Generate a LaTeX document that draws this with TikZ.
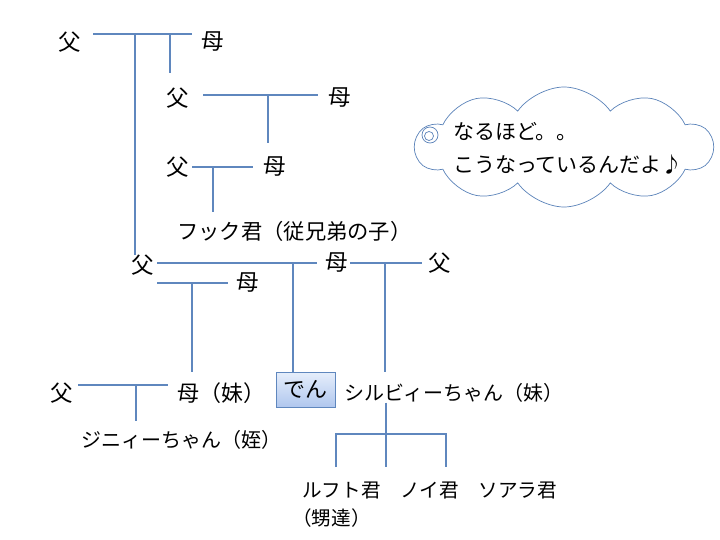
\documentclass[tikz,border=0pt]{standalone}
\usepackage{fontspec}
\setmainfont{Noto Sans CJK JP}
\usetikzlibrary{shapes.symbols,positioning}
\definecolor{linkblue}{RGB}{95,135,190}
\definecolor{cloudblue}{RGB}{90,130,185}
\definecolor{boxtop}{RGB}{230,238,251}
\definecolor{boxbottom}{RGB}{176,199,238}

\begin{document}
\begin{tikzpicture}[
    x=1pt, y=-1pt,
    every node/.style={font=\fontsize{20}{28}\selectfont, inner sep=0pt},
    person/.style={anchor=center, font=\fontsize{22.5}{28}\selectfont},
    label/.style={anchor=west},
    link/.style={draw=linkblue, line width=2pt},
    me/.style={draw=linkblue, line width=0.8pt, top color=boxtop, bottom color=boxbottom, minimum width=59pt, minimum height=35pt, font=\fontsize{22}{28}\selectfont},
    bubble/.style={cloud, cloud puffs=10, cloud puff arc=110, cloud ignores aspect, draw=cloudblue, line width=0.7pt, fill=white, minimum width=297pt, minimum height=120pt},
    tail/.style={circle, draw=cloudblue, line width=0.7pt}
]
\useasboundingbox (0,0) rectangle (720,540);

% people
\node[person] (ggfa) at (70,42) {父};
\node[person] (ggmo) at (213,42) {母};
\node[person] (gfa2) at (178,98) {父};
\node[person] (gmo2) at (340,98) {母};
\node[person] (gfa3) at (178,167) {父};
\node[person] (gmo3) at (275,167) {母};
\node[label, font=\fontsize{21.3}{28}\selectfont] (fuk) at (177,231) {フック君（従兄弟の子）};
\node[person] (fa) at (143,265) {父};
\node[person] (mo) at (337,263) {母};
\node[person] (sfa) at (440,263) {父};
\node[person] (mo2) at (248,283) {母};
\node[person] (ufa) at (62,393) {父};
\node[label, font=\fontsize{22}{28}\selectfont] (aunt) at (177,393) {母（妹）};
\node[me] (den) at (305.5,389.5) {でん};
\node[label] (syl) at (344,393) {シルビィーちゃん（妹）};
\node[label] (jin) at (81,440) {ジニィーちゃん（姪）};
\node[align=left, anchor=north west, font=\fontsize{19.6}{28}\selectfont] (kids) at (302,482) {ルフト君　ノイ君　ソアラ君\\\hspace*{-10pt}（甥達）};

% thought bubble
\node[bubble] (thought) at (564,147) {};
\node[align=left, font=\fontsize{21}{33}\selectfont] (thoughttext) at (568,148) {なるほど。。\\こうなっているんだよ♪};
\node[tail, minimum size=16pt] (tail1) at (430,135) {};
\node[tail, minimum size=9pt] (tail2) at (429,136) {};

% couple lines and drops
\coordinate (u1a) at (93,34);   \coordinate (u1b) at (192,34);
\coordinate (j1) at (135,34);   \coordinate (j2) at (170,34);   \coordinate (e2) at (170,73);
\draw[link] (u1a) -- (u1b);
\draw[link] (j1) -- (j1 |- fa.north);
\draw[link] (j2) -- (e2);

\coordinate (u2a) at (203,95);  \coordinate (u2b) at (318,95);
\coordinate (j3) at (268,95);   \coordinate (e3) at (268,143);
\draw[link] (u2a) -- (u2b);
\draw[link] (j3) -- (e3);

\coordinate (u3a) at (192,167); \coordinate (u3b) at (253,167);
\coordinate (j4) at (213,167);  \coordinate (e4) at (213,212);
\draw[link] (u3a) -- (u3b);
\draw[link] (j4) -- (e4);

\coordinate (u4a) at (157,263); \coordinate (u4b) at (317,263);
\coordinate (j5) at (293,263);
\draw[link] (u4a) -- (u4b);
\draw[link] (j5) -- (j5 |- den.north);

\coordinate (u5a) at (350,263); \coordinate (u5b) at (422,263);
\coordinate (j6) at (385,263);  \coordinate (e6) at (385,372);
\draw[link] (u5a) -- (u5b);
\draw[link] (j6) -- (e6);

\coordinate (u6a) at (157,283); \coordinate (u6b) at (228,283);
\coordinate (j7) at (192,283);  \coordinate (e7) at (192,372);
\draw[link] (u6a) -- (u6b);
\draw[link] (j7) -- (e7);

\coordinate (u7a) at (78,385);  \coordinate (u7b) at (168,385);
\coordinate (j8) at (136,385);  \coordinate (e8) at (136,421);
\draw[link] (u7a) -- (u7b);
\draw[link] (j8) -- (e8);

% sylvie's children
\coordinate (kbar) at (386,434);
\coordinate (kl) at (336,467); \coordinate (km) at (386,467); \coordinate (kr) at (446,467);
\draw[link] (kbar |- syl.south) -- (km);
\draw[link] (kl) -- (kl |- kbar) -- (kr |- kbar) -- (kr);
\end{tikzpicture}
\end{document}
